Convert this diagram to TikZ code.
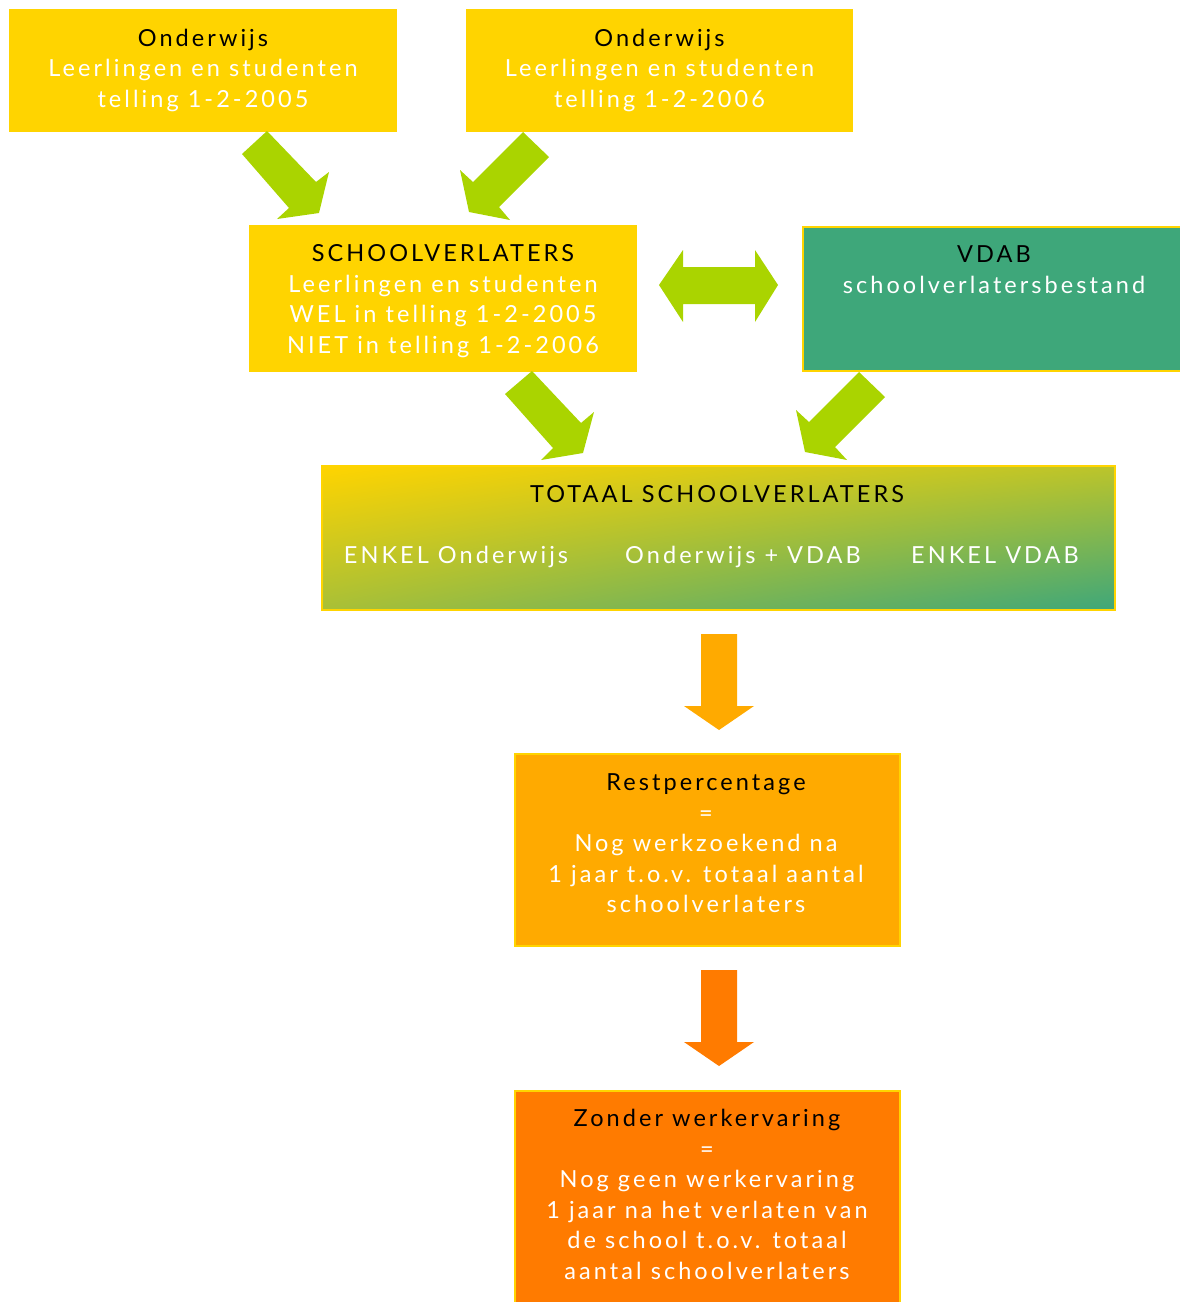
\documentclass[tikz,border=0pt]{standalone}
\usepackage{fontspec}
\setmainfont{Lato}[LetterSpace=13]
\usetikzlibrary{calc,shadings}
\definecolor{geel}{HTML}{FFD400}
\definecolor{groen}{HTML}{3EA77A}
\definecolor{pijlgroen}{HTML}{AAD400}
\definecolor{oranje}{HTML}{FFAA00}
\definecolor{donkeroranje}{HTML}{FF7B00}
\newcommand{\blokpijl}[3]{\fill[#1] (#2-18,#3) -- (#2+18,#3) -- (#2+18,#3+72) -- (#2+35,#3+72) -- (#2,#3+96) -- (#2-35,#3+72) -- (#2-18,#3+72) -- cycle;}

\begin{document}
\begin{tikzpicture}[x=1pt,y=-1pt,every node/.style={inner sep=0pt,outer sep=0pt},
    doos/.style={anchor=north west,draw=geel,line width=1.2pt},
    tekst/.style={anchor=base,align=center,text=white,font=\fontsize{23.5}{30.5}\selectfont}]
    \useasboundingbox (0,0) rectangle (1180,1302);
    \node[doos,fill=geel,minimum width=386pt,minimum height=121pt] (ond05) at (10,10) {};
    \node[doos,fill=geel,minimum width=385pt,minimum height=121pt] (ond06) at (467,10) {};
    \node[doos,fill=geel,minimum width=386pt,minimum height=145pt] (verl) at (250,226) {};
    \node[doos,fill=groen,minimum width=380pt,minimum height=144pt] (vdab) at (803,227) {};
    \node[doos,upper left=geel,lower right=groen,upper right=geel!65!groen,lower left=geel!55!groen,minimum width=793pt,minimum height=144pt] (totaal) at (322,466) {};
    \node[doos,fill=oranje,minimum width=385pt,minimum height=192pt] (rest) at (515,754) {};
    \node[doos,fill=donkeroranje,minimum width=385pt,minimum height=215pt] (zonder) at (515,1091) {};
    \node[tekst] (ond05t) at (203,107) {\textcolor{black}{Onderwijs}\\Leerlingen en studenten\\telling 1-2-2005};
    \node[tekst] (ond06t) at (659.5,107) {\textcolor{black}{Onderwijs}\\Leerlingen en studenten\\telling 1-2-2006};
    \node[tekst] (verlt) at (443,353) {\textcolor{black}{SCHOOLVERLATERS}\\Leerlingen en studenten\\WEL in telling 1-2-2005\\NIET in telling 1-2-2006};
    \node[tekst] (vdabt) at (994,293) {\textcolor{black}{VDAB}\\schoolverlatersbestand};
    \node[tekst,text=black] (totaalt) at (717,502) {TOTAAL SCHOOLVERLATERS};
    \node[tekst] (enkond) at (456,563) {ENKEL Onderwijs};
    \node[tekst] (ondvdab) at (743,563) {Onderwijs + VDAB};
    \node[tekst] (enkvdab) at (995,563) {ENKEL VDAB};
    \node[tekst] (restt) at (706,912.5) {\textcolor{black}{Restpercentage}\\=\\Nog werkzoekend na\\1 jaar t.o.v. totaal aantal\\schoolverlaters};
    \node[tekst] (zondert) at (707,1279) {\textcolor{black}{Zonder werkervaring}\\=\\Nog geen werkervaring\\1 jaar na het verlaten van\\de school t.o.v. totaal\\aantal schoolverlaters};
    \fill[pijlgroen] (242,154) -- (267,131) -- (316,182) -- (329,172) -- (319,213) -- (277,219) -- (289,208) -- cycle;
    \fill[pijlgroen] (523,132) -- (549,157) -- (499,207) -- (510,220) -- (469,212) -- (460,170) -- (473,182) -- cycle;
    \fill[pijlgroen] (659,285) -- (683,250) -- (683,267) -- (755,267) -- (755,250) -- (778,285) -- (755,322) -- (755,304) -- (683,304) -- (683,322) -- cycle;
    \fill[pijlgroen] (505,394) -- (532,371) -- (581,423) -- (594,412) -- (583,453) -- (541,460) -- (553,448) -- cycle;
    \fill[pijlgroen] (859,372) -- (885,397) -- (835,447) -- (847,460) -- (805,452) -- (796,410) -- (809,422) -- cycle;
    \blokpijl{oranje}{719}{634}
    \blokpijl{donkeroranje}{719}{970}
\end{tikzpicture}
\end{document}
